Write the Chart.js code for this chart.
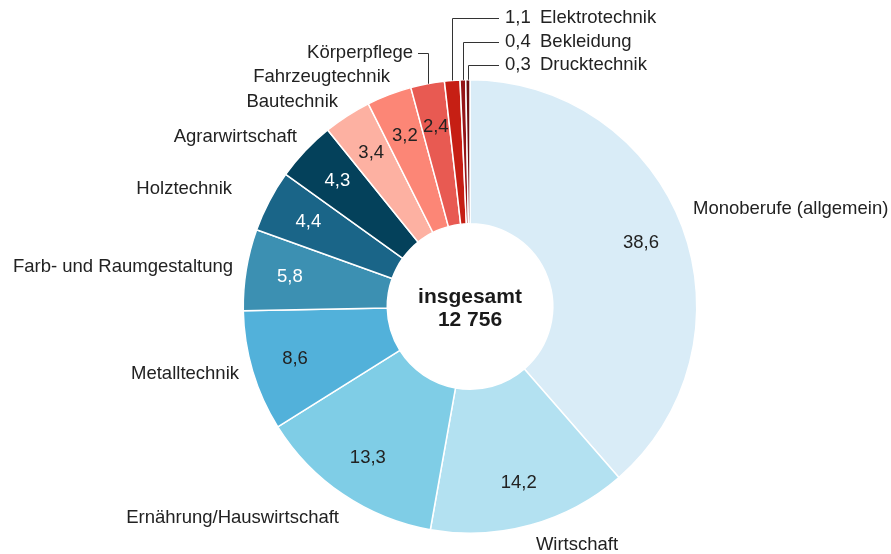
<!DOCTYPE html>
<html lang="de">
<head>
<meta charset="utf-8">
<title>Ausbildungsberufe</title>
<script src="https://cdn.jsdelivr.net/npm/chart.js@4.4.1/dist/chart.umd.min.js"></script>
<style>
  html, body { margin: 0; padding: 0; background: #fff; }
  canvas { display: block; }
</style>
</head>
<body>
<canvas id="berufeChart" width="891" height="554"></canvas>
<script>
const categories = ['Monoberufe (allgemein)', 'Wirtschaft', 'Ernährung/Hauswirtschaft', 'Metalltechnik',
  'Farb- und Raumgestaltung', 'Holztechnik', 'Agrarwirtschaft', 'Bautechnik', 'Fahrzeugtechnik',
  'Körperpflege', 'Elektrotechnik', 'Bekleidung', 'Drucktechnik'];
const shares = [38.6, 14.2, 13.3, 8.6, 5.8, 4.4, 4.3, 3.4, 3.2, 2.4, 1.1, 0.4, 0.3];
const totalLabel = ['insgesamt', '12 756'];

const sliceColors = ['#d9ecf7', '#b3e1f1', '#7fcde6', '#52b1da', '#3c90b2', '#1a6588', '#04415b',
  '#fdb1a2', '#fc8676', '#e85a52', '#c61f14', '#951518', '#6b0e10'];
const valueColors = ['#222', '#222', '#222', '#222', '#fff', '#fff', '#fff', '#222', '#222', '#222'];

// where the category names are written: x, y, align
const namePlaces = [
  [693, 209, 'left'], [577, 545, 'center'], [339, 518, 'right'], [239, 374, 'right'],
  [233, 267, 'right'], [232, 189, 'right'], [297, 137, 'right'], [338, 102, 'right'],
  [390, 77, 'right'], [413, 53, 'right'], [540, 18, 'left'], [540, 42, 'left'], [540, 65, 'left']
];

const fontFamily = '"Liberation Sans", Arial, Helvetica, sans-serif';
const fmt = v => v.toFixed(1).replace('.', ',');

const labelPlugin = {
  id: 'labelPlugin',
  afterDatasetsDraw(chart) {
    const c = chart.ctx;
    const arcs = chart.getDatasetMeta(0).data;
    c.save();
    c.font = '18.5px ' + fontFamily;
    c.textBaseline = 'middle';

    arcs.forEach((arc, i) => {
      const p = arc.getProps(['x', 'y', 'startAngle', 'endAngle', 'innerRadius', 'outerRadius'], true);
      const mid = (p.startAngle + p.endAngle) / 2;
      const [nx, ny, align] = namePlaces[i];

      if (shares[i] >= 2) {
        // value inside the ring
        const r = p.outerRadius * 0.805;
        c.fillStyle = valueColors[i];
        c.textAlign = 'center';
        c.fillText(fmt(shares[i]), p.x + Math.cos(mid) * r, p.y + Math.sin(mid) * r);
        c.fillStyle = '#222';
        c.textAlign = align;
        c.fillText(categories[i], nx, ny);
      } else {
        // small slices: value and name outside, with a leader line
        c.fillStyle = '#222';
        c.textAlign = 'left';
        c.fillText(fmt(shares[i]), 505, ny);
        c.fillText(categories[i], nx, ny);
      }
    });

    // leader lines
    c.strokeStyle = '#333';
    c.lineWidth = 1;
    arcs.forEach((arc, i) => {
      const p = arc.getProps(['x', 'y', 'startAngle', 'endAngle', 'outerRadius'], true);
      const mid = (p.startAngle + p.endAngle) / 2;
      const ex = p.x + Math.cos(mid) * p.outerRadius;
      const ey = p.y + Math.sin(mid) * p.outerRadius;
      const ny = namePlaces[i][1];
      if (shares[i] < 2) {
        c.beginPath();
        c.moveTo(Math.round(ex) + 0.5, ey);
        c.lineTo(Math.round(ex) + 0.5, Math.round(ny) + 0.5);
        c.lineTo(499, Math.round(ny) + 0.5);
        c.stroke();
      } else if (categories[i] === 'Körperpflege') {
        c.beginPath();
        c.moveTo(418, Math.round(ny) + 0.5);
        c.lineTo(Math.round(ex) + 0.5, Math.round(ny) + 0.5);
        c.lineTo(Math.round(ex) + 0.5, ey);
        c.stroke();
      }
    });

    // total in the hole
    const p0 = arcs[0].getProps(['x', 'y'], true);
    c.font = 'bold 21px ' + fontFamily;
    c.fillStyle = '#1a1a1a';
    c.textAlign = 'center';
    c.fillText(totalLabel[0], p0.x, p0.y - 9);
    c.fillText(totalLabel[1], p0.x, p0.y + 14);
    c.restore();
  }
};

const ctx = document.getElementById('berufeChart').getContext('2d');
const chart = new Chart(ctx, {
  type: 'doughnut',
  data: {
    labels: categories,
    datasets: [{
      data: shares,
      backgroundColor: sliceColors,
      borderColor: '#ffffff',
      borderWidth: 1.5
    }]
  },
  options: {
    responsive: false,
    animation: false,
    events: [],
    cutout: '36.5%',
    layout: { padding: { left: 242, right: 193, top: 79, bottom: 20 } },
    plugins: {
      legend: { display: false },
      tooltip: { enabled: false }
    }
  },
  plugins: [labelPlugin]
});
</script>
</body>
</html>
